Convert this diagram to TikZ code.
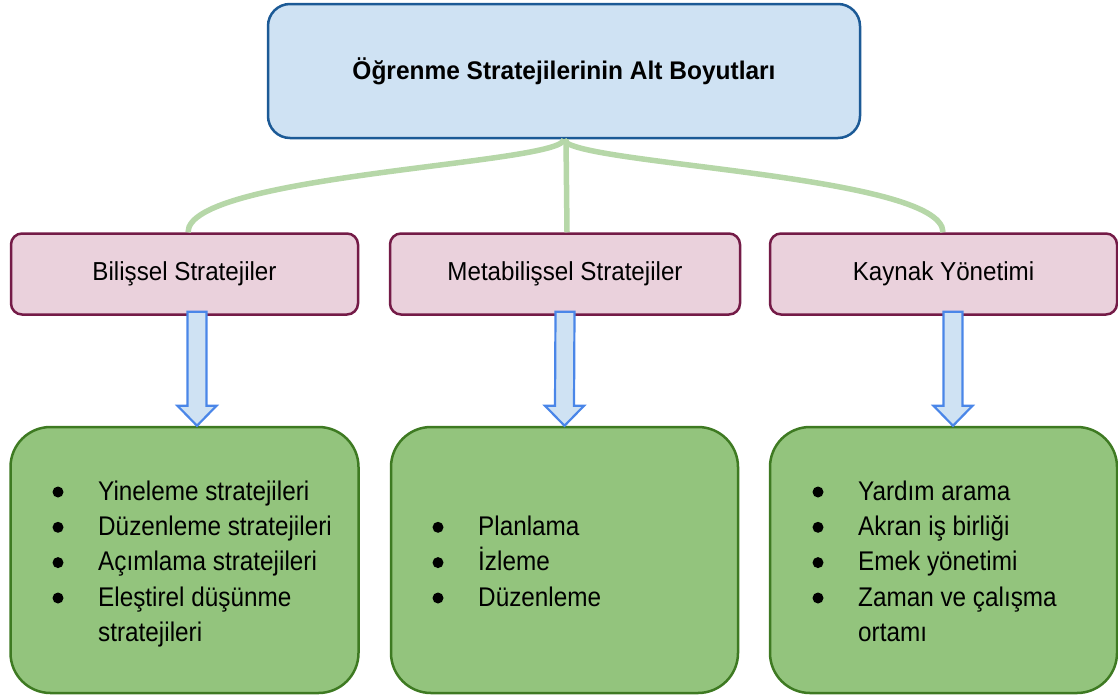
\documentclass[tikz,border=0pt]{standalone}
\usepackage{fontspec}
\setmainfont{Liberation Sans}
\newfontfamily\itemfont[FakeStretch=0.9]{Liberation Sans}
\newfontfamily\catfont[FakeStretch=0.93]{Liberation Sans}
\newfontfamily\titlefont[FakeStretch=0.96]{Liberation Sans}
\usetikzlibrary{calc}
\definecolor{topfill}{HTML}{CFE2F3}
\definecolor{topline}{HTML}{1C5A96}
\definecolor{catfill}{HTML}{EAD1DC}
\definecolor{catline}{HTML}{741B47}
\definecolor{listfill}{HTML}{93C47D}
\definecolor{listline}{HTML}{3E7A22}
\definecolor{linkcol}{HTML}{B6D7A8}
\definecolor{arrowline}{HTML}{4A86E8}
\begin{document}
\begin{tikzpicture}[x=1pt,y=-1pt,
  topbox/.style={draw=topline, fill=topfill, line width=2.5pt, rounded corners=22pt,
    minimum width=592pt, minimum height=134pt, inner sep=0pt,
    font=\titlefont\fontsize{25.5}{30}\selectfont\bfseries},
  catbox/.style={draw=catline, fill=catfill, line width=2.5pt, rounded corners=11pt,
    minimum width=347pt, minimum height=81pt, inner sep=0pt,
    font=\catfont\fontsize{26}{30}\selectfont},
  listbox/.style={draw=listline, fill=listfill, line width=2.5pt, rounded corners=40pt,
    minimum width=347pt, minimum height=266pt, inner sep=0pt},
  item/.style={anchor=base west, inner sep=0pt, font=\itemfont\fontsize{27}{32}\selectfont},
  dot/.style={fill=black},
  link/.style={draw=linkcol, line width=5.5pt},
  blockarr/.style={draw=arrowline, fill=topfill, line width=2.2pt, line join=miter}]
\useasboundingbox (0,0) rectangle (1118,699);

% title
\node[topbox] (top) at (564,71) {Öğrenme Stratejilerinin Alt Boyutları};

% categories
\node[catbox] (c1) at (184.5,274) {Bilişsel Stratejiler};
\node[catbox, minimum width=350pt] (c2) at (565,274) {Metabilişsel Stratejiler};
\node[catbox] (c3) at (943.5,274) {Kaynak Yönetimi};

% links from the title to the categories
\draw[link] (top.south) .. controls +(0,25) and ($(c1.north)+(3.5,-58)$) .. ($(c1.north)+(3.5,0)$);
\draw[link] ($(top.south)+(2,0)$) -- ($(c2.north)+(2,0)$);
\draw[link] (top.south) .. controls +(0,25) and ($(c3.north)+(-0.5,-58)$) .. ($(c3.north)+(-0.5,0)$);

% item boxes
\node[listbox, minimum width=348pt] (g1) at (184.5,560) {};
\node[listbox] (g2) at (564.5,560) {};
\node[listbox] (g3) at (943.5,560) {};

% block arrows from categories to item boxes
\newcommand\blockarrow[3]{%
  \draw[blockarr] ($(#1.south)+(#3-9.5,-4)$) -- ($(#1.south)+(#3+9.5,-4)$)
    -- ($(#2.north)+(#3+9.5,-20)$) -- ($(#2.north)+(#3+19.5,-20)$)
    -- ($(#2.north)+(#3,0)$) -- ($(#2.north)+(#3-19.5,-20)$)
    -- ($(#2.north)+(#3-9.5,-20)$) -- cycle;}
\blockarrow{c1}{g1}{12.5}
\blockarrow{c2}{g2}{0}
\blockarrow{c3}{g3}{9.5}

% first list
\fill[dot] (58,492) circle (5.5);
\fill[dot] (58,527.3) circle (5.5);
\fill[dot] (58,562.6) circle (5.5);
\fill[dot] (58,598) circle (5.5);
\node[item] (a1) at (98,500) {Yineleme stratejileri};
\node[item] (a2) at (98,535.3) {Düzenleme stratejileri};
\node[item] (a3) at (98,570.6) {Açımlama stratejileri};
\node[item] (a4) at (98,606) {Eleştirel düşünme};
\node[item] (a5) at (98,641.3) {stratejileri};

% second list
\fill[dot] (438,527.3) circle (5.5);
\fill[dot] (438,562.6) circle (5.5);
\fill[dot] (438,598) circle (5.5);
\node[item] (b1) at (478,535.3) {Planlama};
\node[item] (b2) at (478,570.6) {İzleme};
\node[item] (b3) at (478,606) {Düzenleme};

% third list
\fill[dot] (818,492) circle (5.5);
\fill[dot] (818,527.3) circle (5.5);
\fill[dot] (818,562.6) circle (5.5);
\fill[dot] (818,598) circle (5.5);
\node[item] (d1) at (858,500) {Yardım arama};
\node[item] (d2) at (858,535.3) {Akran iş birliği};
\node[item] (d3) at (858,570.6) {Emek yönetimi};
\node[item] (d4) at (858,606) {Zaman ve çalışma};
\node[item] (d5) at (858,641.3) {ortamı};
\end{tikzpicture}
\end{document}
